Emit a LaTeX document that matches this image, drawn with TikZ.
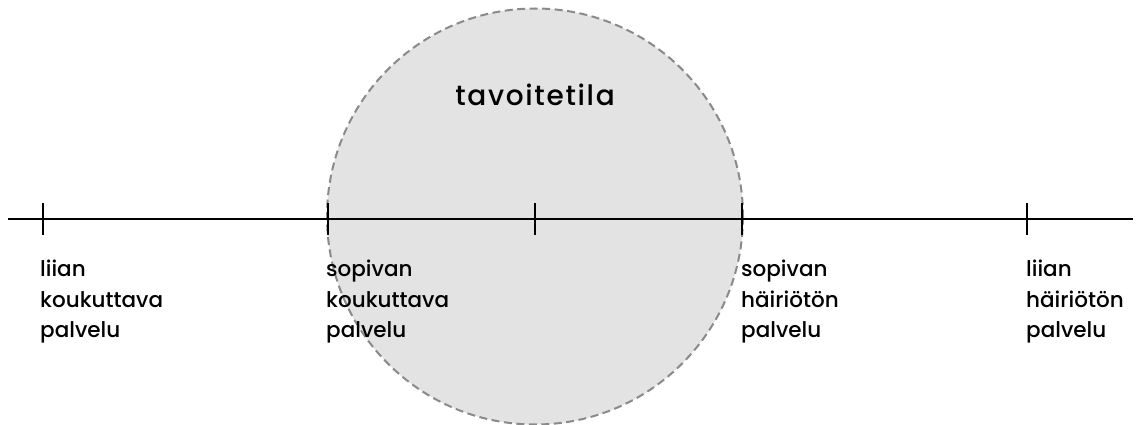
\documentclass[tikz,border=0pt]{standalone}
\usepackage{fontspec}
\setmainfont{Poppins}[UprightFont=* Medium]
\newfontfamily\titlefont{Poppins}[UprightFont=* Medium,LetterSpace=6]
\definecolor{circfill}{HTML}{E3E3E3}
\definecolor{circline}{HTML}{8A8A8A}
\begin{document}
\begin{tikzpicture}[x=1pt,y=-1pt,
  axis/.style={line width=2pt,black},
  tick/.style={line width=2pt,black},
  goal/.style={fill=circfill,draw=circline,line width=2pt,dash pattern=on 8pt off 4.5pt},
  lbl/.style={anchor=north west,align=left,inner sep=0pt,font=\fontsize{21.5}{30.5}\selectfont},
  ttl/.style={anchor=base,inner sep=0pt,font=\titlefont\fontsize{28}{30}\selectfont}]
\useasboundingbox (0,0) rectangle (1141,425);
\draw[goal] (535,216.5) circle (208);
\node[ttl] (title) at (535,106) {tavoitetila};
\coordinate (L) at (8,218.5);
\coordinate (R) at (1133,218.5);
\draw[axis] (L) -- (R);
\foreach \x/\n in {43/t1,328/t2,535/t3,742/t4,1027/t5}{
  \coordinate (\n top) at (\x,203);
  \coordinate (\n bot) at (\x,235);
  \draw[tick] (\n top) -- (\n bot);
}
\node[lbl] (l1) at (40,260) {liian\\koukuttava\\palvelu};
\node[lbl] (l2) at (326,260) {sopivan\\koukuttava\\palvelu};
\node[lbl] (l4) at (741,260) {sopivan\\häiriötön\\palvelu};
\node[lbl] (l5) at (1026,260) {liian\\häiriötön\\palvelu};
\end{tikzpicture}
\end{document}
